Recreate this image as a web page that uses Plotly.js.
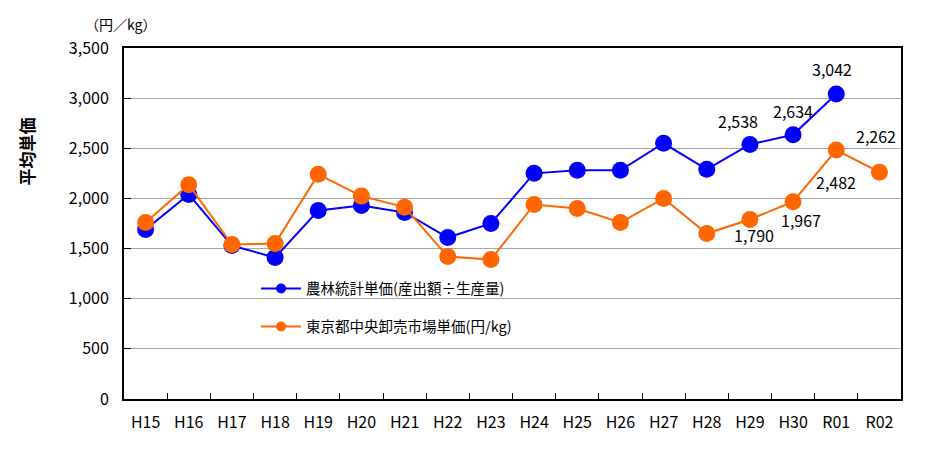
<!DOCTYPE html>
<html>
<head>
<meta charset="utf-8">
<script src="https://cdn.plot.ly/plotly-3.0.1.min.js"></script>
<style>html,body{margin:0;padding:0;background:#fff;}#chart{width:934px;height:469px;}</style>
</head>
<body>
<div id="chart"></div>
<script>
const years = ["H15","H16","H17","H18","H19","H20","H21","H22","H23","H24","H25","H26","H27","H28","H29","H30","R01","R02"];
const nourinPrice = [1690,2040,1530,1410,1880,1930,1860,1610,1750,2250,2280,2280,2550,2290,2538,2634,3042,null];
const tokyoPrice  = [1760,2137,1540,1550,2240,2023,1913,1420,1390,1940,1900,1760,2000,1650,1790,1967,2482,2262];
const nourinName = "農林統計単価(産出額÷生産量)";
const tokyoName  = "東京都中央卸売市場単価(円/kg)";
const labeledNourin = ["H29","H30","R01"];
const labeledTokyo  = ["H29","H30","R01","R02"];

const fontJP = '"Noto Sans CJK JP", "Noto Sans", sans-serif';
const fmt = v => v.toLocaleString('en-US');

const annotations = [];
const offN = {H29:[-12,-23], H30:[0,-24], R01:[-4,-25]};
const offT = {H29:[4,16], H30:[8,18], R01:[0,32], R02:[-3,-36]};
labeledNourin.forEach(k => {
  const i = years.indexOf(k);
  annotations.push({x:k, y:nourinPrice[i], text:fmt(nourinPrice[i]), showarrow:false,
    xshift:offN[k][0], yshift:-offN[k][1], font:{size:16, color:'#000', family:fontJP}});
});
labeledTokyo.forEach(k => {
  const i = years.indexOf(k);
  annotations.push({x:k, y:tokyoPrice[i], text:fmt(tokyoPrice[i]), showarrow:false,
    xshift:offT[k][0], yshift:-offT[k][1], font:{size:16, color:'#000', family:fontJP}});
});
annotations.push({xref:'paper', yref:'paper', x:-0.004, y:1.035, xanchor:'center', yanchor:'bottom',
  text:'（円／kg）', showarrow:false, font:{size:14, color:'#000', family:fontJP}});
annotations.push({xref:'paper', yref:'paper', x:-0.125, y:0.705, xanchor:'center', yanchor:'middle',
  text:'<b>平均単価</b>', textangle:-90, showarrow:false, font:{size:17, color:'#000', family:fontJP}});

const traces = [
  {x:years, y:nourinPrice, name:nourinName, type:'scatter', mode:'lines+markers', showlegend:false,
   line:{color:'#0000FF', width:2}, marker:{color:'#0000FF', size:17}},
  {x:years, y:tokyoPrice, name:tokyoName, type:'scatter', mode:'lines+markers', showlegend:false,
   line:{color:'#FF6600', width:2}, marker:{color:'#FF6600', size:17}},
  {x:[null], y:[null], name:nourinName, type:'scatter', mode:'lines+markers', legendgroup:'a',
   line:{color:'#0000FF', width:2}, marker:{color:'#0000FF', size:10}, hoverinfo:'skip'},
  {x:[null], y:[null], name:tokyoName, type:'scatter', mode:'lines+markers', legendgroup:'b',
   line:{color:'#FF6600', width:2}, marker:{color:'#FF6600', size:10}, hoverinfo:'skip'}
];

const layout = {
  width:934, height:469,
  margin:{l:124, r:33, t:48, b:70},
  paper_bgcolor:'#fff', plot_bgcolor:'#fff',
  font:{family:fontJP, color:'#000', size:15},
  showlegend:true,
  legend:{x:0.17, y:0.36, xanchor:'left', yanchor:'top', bgcolor:'rgba(0,0,0,0)',
    font:{size:14.5, family:fontJP, color:'#000'}, traceorder:'grouped', tracegroupgap:16,
    itemwidth:40},
  shapes:[{type:'rect', xref:'paper', yref:'paper', x0:0.081, x1:0.622, y0:0.18, y1:0.34,
    fillcolor:'#fff', line:{width:0}, layer:'between'}],
  xaxis:{type:'category', range:[-0.5,17.5], showgrid:false, showline:true, linecolor:'#000', linewidth:2,
    mirror:true, ticks:'inside', tickson:'boundaries', ticklen:6, tickcolor:'#000', tickwidth:1,
    tickfont:{size:16, family:fontJP}, zeroline:false, fixedrange:true, ticklabelstandoff:8},
  yaxis:{range:[0,3500], dtick:500, tickformat:',', showgrid:true, gridcolor:'#A6A6A6', gridwidth:1,
    showline:true, linecolor:'#000', linewidth:2, mirror:true, ticks:'inside', ticklen:7, tickcolor:'#000',
    tickfont:{size:16, family:fontJP}, zeroline:false, ticklabelstandoff:10, fixedrange:true},
  annotations:annotations
};

Plotly.newPlot('chart', traces, layout, {displayModeBar:false, staticPlot:true});
</script>
</body>
</html>
